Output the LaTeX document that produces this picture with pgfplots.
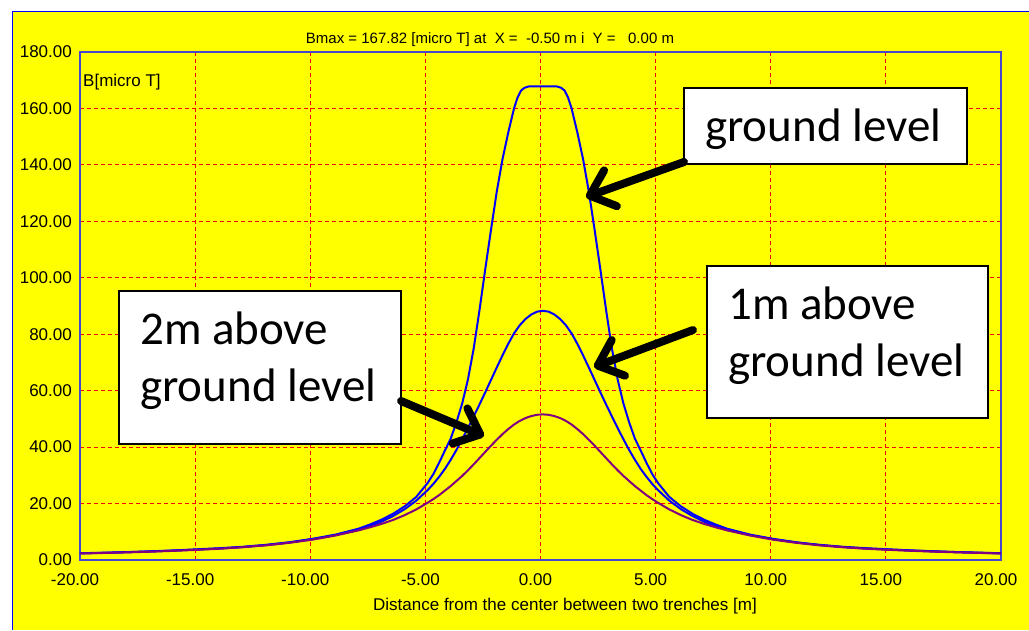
\documentclass[border=0pt]{standalone}
\usepackage{pgfplots}
\pgfplotsset{compat=1.18}
\usepackage{pgfplotstable}
\usepackage{fontspec}
\setmainfont{Liberation Sans}
\newfontfamily\calib{Carlito}
\usetikzlibrary{arrows.meta}
\definecolor{ybg}{RGB}{255,255,0}
\definecolor{axblue}{RGB}{70,70,210}
\definecolor{curveblue}{RGB}{0,0,255}
\definecolor{curvepurple}{RGB}{128,0,128}
\definecolor{gridred}{RGB}{255,0,0}

% ground level
\pgfplotstableread{
x y
-20.0 2.4
-18.9 2.6
-17.9 2.8
-16.9 3.1
-15.9 3.4
-14.9 3.8
-13.9 4.2
-12.9 4.7
-11.9 5.4
-10.9 6.3
-9.9 7.5
-8.9 9.0
-7.9 11.1
-7.4 12.6
-6.9 14.3
-6.4 16.4
-5.9 19.0
-5.4 22.3
-4.9 27.3
-4.65 30.5
-4.4 34.5
-4.15 38.8
-3.9 43.0
-3.65 48.8
-3.4 55.5
-3.15 64.0
-2.9 75.0
-2.65 88.5
-2.4 103.0
-2.15 117.0
-1.9 130.5
-1.65 142.0
-1.4 151.5
-1.15 160.0
-1.0 163.8
-0.85 166.3
-0.7 167.3
-0.5 167.82
0.7 167.82
0.9 167.3
1.05 166.3
1.2 163.8
1.35 160.0
1.6 151.5
1.85 142.0
2.1 130.5
2.35 117.0
2.6 103.0
2.85 88.5
3.1 75.0
3.35 64.0
3.6 55.5
3.85 48.8
4.1 43.0
4.35 38.8
4.6 34.5
4.85 30.5
5.1 27.3
5.6 22.3
6.1 19.0
6.6 16.4
7.1 14.3
7.6 12.6
8.1 11.1
9.1 9.0
10.1 7.5
11.1 6.3
12.1 5.4
13.1 4.7
14.1 4.2
15.1 3.8
16.1 3.4
17.1 3.1
18.1 2.8
19.1 2.6
20.0 2.4
}\groundtab

% 1 m above ground level
\pgfplotstableread{
x y
-20.0 2.35
-18.9 2.55
-17.9 2.8
-16.9 3.05
-15.9 3.35
-14.9 3.7
-13.9 4.1
-12.9 4.6
-11.9 5.3
-10.9 6.2
-9.9 7.4
-8.9 8.8
-7.9 10.7
-7.4 12.0
-6.9 13.6
-6.4 15.6
-5.9 18.0
-5.4 21.0
-4.9 24.8
-4.65 27.0
-4.4 29.5
-4.15 32.3
-3.9 35.5
-3.65 39.0
-3.4 42.8
-3.15 46.8
-2.9 50.9
-2.65 55.1
-2.4 59.4
-2.15 63.8
-1.9 68.2
-1.65 72.5
-1.4 76.6
-1.15 80.3
-0.9 83.2
-0.65 85.4
-0.4 87.0
-0.15 88.0
0.1 88.3
0.35 88.0
0.6 87.0
0.85 85.4
1.1 83.2
1.35 80.3
1.6 76.6
1.85 72.5
2.1 68.2
2.35 63.8
2.6 59.4
2.85 55.1
3.1 50.9
3.35 46.8
3.6 42.8
3.85 39.0
4.1 35.5
4.35 32.3
4.6 29.5
4.85 27.0
5.1 24.8
5.6 21.0
6.1 18.0
6.6 15.6
7.1 13.6
7.6 12.0
8.1 10.7
9.1 8.8
10.1 7.4
11.1 6.2
12.1 5.3
13.1 4.6
14.1 4.1
15.1 3.7
16.1 3.35
17.1 3.05
18.1 2.8
19.1 2.55
20.0 2.35
}\onemtab

% 2 m above ground level
\pgfplotstableread{
x y
-20.0 2.3
-18.9 2.5
-17.9 2.7
-16.9 2.95
-15.9 3.25
-14.9 3.6
-13.9 4.0
-12.9 4.55
-11.9 5.2
-10.9 6.1
-9.9 7.2
-8.9 8.7
-7.9 10.5
-7.4 11.6
-6.9 12.8
-6.4 14.2
-5.9 15.9
-5.4 17.9
-4.9 20.3
-4.65 21.6
-4.4 23.0
-4.15 24.6
-3.9 26.2
-3.65 28.0
-3.4 29.8
-3.15 31.8
-2.9 33.9
-2.65 36.1
-2.4 38.3
-2.15 40.5
-1.9 42.6
-1.65 44.6
-1.4 46.4
-1.15 48.0
-0.9 49.3
-0.65 50.3
-0.4 51.0
-0.15 51.45
0.1 51.6
0.35 51.45
0.6 51.0
0.85 50.3
1.1 49.3
1.35 48.0
1.6 46.4
1.85 44.6
2.1 42.6
2.35 40.5
2.6 38.3
2.85 36.1
3.1 33.9
3.35 31.8
3.6 29.8
3.85 28.0
4.1 26.2
4.35 24.6
4.6 23.0
4.85 21.6
5.1 20.3
5.6 17.9
6.1 15.9
6.6 14.2
7.1 12.8
7.6 11.6
8.1 10.5
9.1 8.7
10.1 7.2
11.1 6.1
12.1 5.2
13.1 4.55
14.1 4.0
15.1 3.6
16.1 3.25
17.1 2.95
18.1 2.7
19.1 2.5
20.0 2.3
}\twomtab

\begin{document}
\begin{tikzpicture}[x=1pt,y=1pt]
\useasboundingbox (0,0) rectangle (1029,630);
\fill[white] (0,0) rectangle (1029,630);
\fill[ybg] (12,0) rectangle (1029,618);
\draw[blue, line width=1pt] (12,0) -- (12,618) -- (1029,618);
\begin{axis}[
  at={(80pt,70pt)}, anchor=south west,
  scale only axis, width=921pt, height=508pt,
  xmin=-20, xmax=20, ymin=0, ymax=180,
  xtick={-20,-15,-10,-5,0,5,10,15,20},
  xticklabels={-20.00,-15.00,-10.00,-5.00,0.00,5.00,10.00,15.00,20.00},
  ytick={0,20,40,60,80,100,120,140,160,180},
  yticklabels={0.00,20.00,40.00,60.00,80.00,100.00,120.00,140.00,160.00,180.00},
  grid=major,
  major tick length=0pt,
  every tick/.style={gridred},
  xtick style={gridred},
  ytick style={gridred},
  grid style={gridred, dash pattern=on 4pt off 3pt, line width=1.1pt},
  major grid style={gridred, dash pattern=on 4pt off 3pt, line width=1.1pt},
  axis line style={axblue, line width=1.2pt},
  ticklabel style={font=\fontsize{17}{20}\selectfont, text=black},
  yticklabel style={anchor=east, inner sep=0pt, xshift=-8pt},
  xticklabel style={anchor=north, inner sep=0pt, yshift=-13pt, xshift=-5pt},
  xlabel={Distance from the center between two trenches [m]},
  xlabel style={font=\fontsize{17}{20}\selectfont, at={(rel axis cs:0.5266,0)}, anchor=center, yshift=-46pt},
  clip=true,
]
\addplot[curveblue, line width=2pt] table[x=x,y=y] {\groundtab};
\addplot[curveblue, line width=2pt] table[x=x,y=y] {\onemtab};
\addplot[curvepurple, line width=2pt] table[x=x,y=y] {\twomtab};
\end{axis}
% title and inner y label
\node[font=\fontsize{15}{18}\selectfont, inner sep=0pt] at (490,590) {Bmax = 167.82 [micro T] at~~X =~~-0.50 m i~~Y =~~~0.00 m};
\node[font=\fontsize{17}{20}\selectfont, anchor=west, inner sep=0pt] at (83,548) {B[micro T]};
% annotation boxes
\draw[black, fill=white, line width=1.5pt] (684,542) rectangle (967,466);
\node[anchor=base west, inner sep=0pt, font=\calib\fontsize{47}{57}\selectfont] at (705,488) {ground level};
\draw[black, fill=white, line width=1.5pt] (707,364) rectangle (988,212);
\node[anchor=base west, inner sep=0pt, font=\calib\fontsize{47}{57}\selectfont] at (728,310) {1m above};
\node[anchor=base west, inner sep=0pt, font=\calib\fontsize{47}{57}\selectfont] at (728,253) {ground level};
\draw[black, fill=white, line width=1.5pt] (119,339) rectangle (401,186);
\node[anchor=base west, inner sep=0pt, font=\calib\fontsize{47}{57}\selectfont] at (140,285) {2m above};
\node[anchor=base west, inner sep=0pt, font=\calib\fontsize{47}{57}\selectfont] at (140,228) {ground level};
% arrows
\begin{scope}[line width=8pt, line cap=round, -{Straight Barb[length=22pt, width=38pt, round]}]
\draw (684,468) -- (586,433);
\draw (693,300) -- (594,263);
\draw (401,229) -- (484,194);
\end{scope}
\end{tikzpicture}
\end{document}
